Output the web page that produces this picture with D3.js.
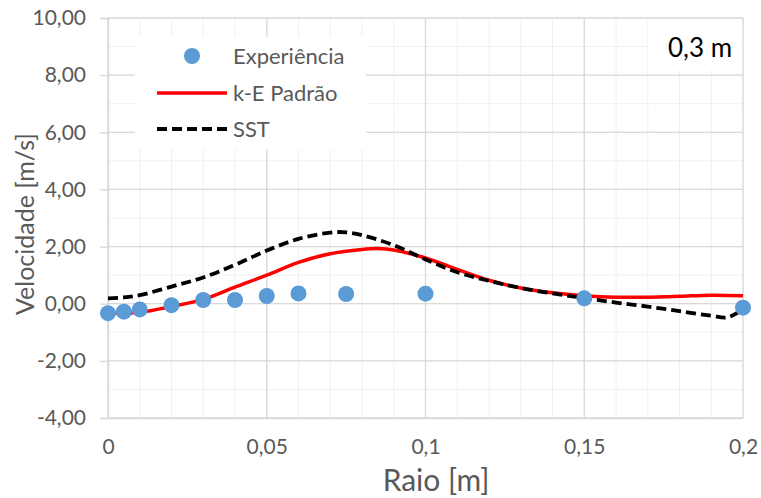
<!DOCTYPE html>
<html>
<head>
<meta charset="utf-8">
<script src="https://cdn.jsdelivr.net/npm/d3@7"></script>
<style>
  html, body { margin: 0; padding: 0; background: #fff; }
  svg { display: block; font-family: Lato, "Open Sans", sans-serif; }
</style>
</head>
<body>
<svg id="chart" width="761" height="498"></svg>
<script>
// Measured radial positions [m] and axial velocity [m/s]
const expRadius = [0, 0.005, 0.01, 0.02, 0.03, 0.04, 0.05, 0.06, 0.075, 0.1, 0.15, 0.2];
const expVelocity = [-0.33, -0.28, -0.2, -0.05, 0.13, 0.13, 0.27, 0.36, 0.34, 0.35, 0.19, -0.14];

// k-E standard model profile
const keRadius = [0, 0.01, 0.02, 0.03, 0.04, 0.05, 0.06, 0.07, 0.08, 0.085, 0.09, 0.1, 0.11, 0.12, 0.13, 0.14, 0.15, 0.16, 0.17, 0.18, 0.19, 0.2];
const keVelocity = [-0.33, -0.3, -0.1, 0.15, 0.58, 1.0, 1.45, 1.75, 1.9, 1.93, 1.88, 1.6, 1.2, 0.82, 0.55, 0.38, 0.28, 0.23, 0.23, 0.26, 0.3, 0.28];

// SST model profile
const sstRadius = [0, 0.005, 0.01, 0.02, 0.03, 0.04, 0.05, 0.06, 0.07, 0.075, 0.08, 0.09, 0.1, 0.11, 0.12, 0.13, 0.14, 0.15, 0.16, 0.17, 0.18, 0.19, 0.195, 0.2];
const sstVelocity = [0.19, 0.22, 0.3, 0.6, 0.92, 1.36, 1.86, 2.27, 2.49, 2.5, 2.4, 2.05, 1.55, 1.1, 0.8, 0.55, 0.36, 0.2, 0.04, -0.1, -0.26, -0.42, -0.48, -0.2];

const xTicks = [0, 0.05, 0.1, 0.15, 0.2];
const yTicks = [-4, -2, 0, 2, 4, 6, 8, 10];
const legendLabels = ["Experiência", "k-E Padrão", "SST"];
const xTitle = "Raio [m]";
const yTitle = "Velocidade [m/s]";
const heightLabel = "0,3 m";

const svg = d3.select("#chart");
const plotL = 108, plotR = 743, plotT = 18, plotB = 418;

const x = d3.scaleLinear().domain([0, 0.2]).range([plotL, plotR]);
const y = d3.scaleLinear().domain([-4, 10]).range([plotB, plotT]);

// Portuguese number style: decimal comma, plain hyphen for negatives
const ptLocale = d3.formatLocale({ decimal: ",", thousands: ".", grouping: [3], currency: ["R$", ""], minus: "-" });
const fmtY = ptLocale.format(".2f");
const fmtX = v => String(v).replace(".", ",");

const grid = svg.append("g");
// minor grid
const xMinor = d3.range(0, 0.2001, 0.01).map(v => +v.toFixed(3));
const yMinor = d3.range(-4, 10.001, 1);
grid.selectAll(".xm").data(xMinor).join("line")
  .attr("x1", d => x(d)).attr("x2", d => x(d))
  .attr("y1", plotT).attr("y2", plotB)
  .attr("stroke", "#f0f0f0").attr("stroke-width", 1);
grid.selectAll(".ym").data(yMinor).join("line")
  .attr("x1", plotL).attr("x2", plotR)
  .attr("y1", d => y(d)).attr("y2", d => y(d))
  .attr("stroke", "#f0f0f0").attr("stroke-width", 1);
// major grid
grid.selectAll(".xM").data(xTicks).join("line")
  .attr("x1", d => x(d)).attr("x2", d => x(d))
  .attr("y1", plotT).attr("y2", plotB)
  .attr("stroke", "#d9d9d9").attr("stroke-width", 1.3);
grid.selectAll(".yM").data(yTicks).join("line")
  .attr("x1", plotL).attr("x2", plotR)
  .attr("y1", d => y(d)).attr("y2", d => y(d))
  .attr("stroke", "#d9d9d9").attr("stroke-width", 1.3);

// y axis with outward ticks
const yAxis = svg.append("g").attr("transform", `translate(${plotL},0)`)
  .call(d3.axisLeft(y).tickValues(yTicks).tickFormat(fmtY).tickSize(8).tickPadding(14));
yAxis.select(".domain").attr("stroke", "#d9d9d9").attr("stroke-width", 1.3);
yAxis.selectAll(".tick line").attr("stroke", "#d9d9d9").attr("stroke-width", 1.3);
yAxis.selectAll("text").attr("fill", "#595959").attr("font-size", 21).attr("font-family", "Lato");

// x axis
const xAxis = svg.append("g").attr("transform", `translate(0,${plotB})`)
  .call(d3.axisBottom(x).tickValues(xTicks).tickFormat(fmtX).tickSize(0).tickPadding(21));
xAxis.select(".domain").attr("stroke", "#d9d9d9").attr("stroke-width", 1.3);
xAxis.selectAll("text").attr("fill", "#595959").attr("font-size", 21).attr("font-family", "Lato");

// axis titles
svg.append("text").attr("x", 436).attr("y", 491).attr("text-anchor", "middle")
  .attr("fill", "#595959").attr("font-size", 30).text(xTitle);
svg.append("text").attr("transform", "translate(34,224) rotate(-90)").attr("text-anchor", "middle")
  .attr("fill", "#595959").attr("font-size", 25).text(yTitle);

// series
const curve = d3.curveCatmullRom.alpha(0.5);
const line = d3.line().x(d => x(d[0])).y(d => y(d[1])).curve(curve);

svg.append("path").datum(keRadius.map((r, i) => [r, keVelocity[i]]))
  .attr("d", line).attr("fill", "none").attr("stroke", "#ff0000").attr("stroke-width", 3.5);
svg.append("path").datum(sstRadius.map((r, i) => [r, sstVelocity[i]]))
  .attr("d", line).attr("fill", "none").attr("stroke", "#000").attr("stroke-width", 3.8)
  .attr("stroke-dasharray", "10,5");

svg.append("g").selectAll("circle").data(expRadius.map((r, i) => [r, expVelocity[i]])).join("circle")
  .attr("cx", d => x(d[0])).attr("cy", d => y(d[1])).attr("r", 8).attr("fill", "#5b9bd5");

// legend
const lg = svg.append("g");
lg.append("rect").attr("x", 135).attr("y", 37).attr("width", 231).attr("height", 112).attr("fill", "#fff");
lg.append("circle").attr("cx", 192).attr("cy", 56).attr("r", 8).attr("fill", "#5b9bd5");
lg.append("line").attr("x1", 157).attr("x2", 227).attr("y1", 93).attr("y2", 93)
  .attr("stroke", "#ff0000").attr("stroke-width", 3.5);
lg.append("line").attr("x1", 157).attr("x2", 227).attr("y1", 129).attr("y2", 129)
  .attr("stroke", "#000").attr("stroke-width", 3.8).attr("stroke-dasharray", "10,5");
lg.selectAll("text").data(legendLabels).join("text")
  .attr("x", 233).attr("y", (d, i) => 64 + i * 36.5)
  .attr("fill", "#595959").attr("font-size", 22).text(d => d);

// height label box
svg.append("rect").attr("x", 648).attr("y", 19).attr("width", 94).attr("height", 51).attr("fill", "#fff");
svg.append("text").attr("x", 700).attr("y", 57).attr("text-anchor", "middle")
  .attr("fill", "#000").attr("font-size", 26).text(heightLabel);
</script>
</body>
</html>
